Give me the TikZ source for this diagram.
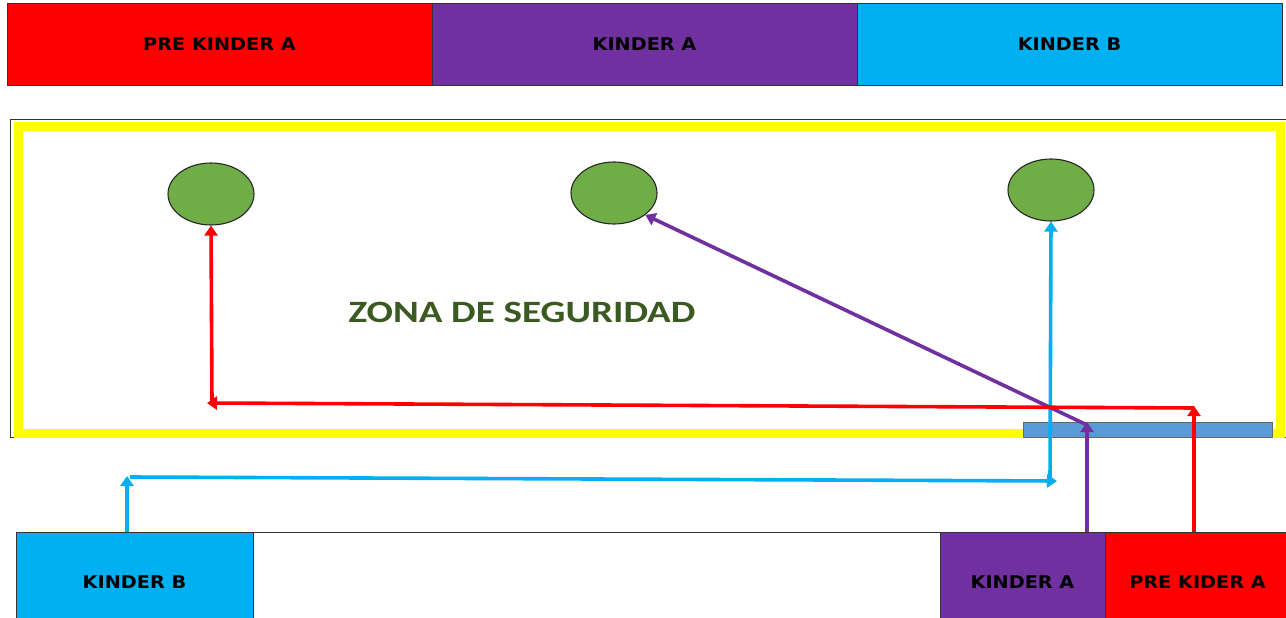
\documentclass[tikz,border=0pt]{standalone}
\usepackage{fontspec}
\setmainfont{DejaVu Sans}
\newfontfamily\zonafont{Carlito}
\usetikzlibrary{shapes.geometric,arrows.meta}
\definecolor{cred}{HTML}{FF0000}
\definecolor{cpurple}{HTML}{7030A0}
\definecolor{ccyan}{HTML}{00B0F0}
\definecolor{cyellow}{HTML}{FFFF00}
\definecolor{cgreen}{HTML}{70AD47}
\definecolor{cbar}{HTML}{5B9BD5}
\definecolor{ctext}{HTML}{3A5A22}
\newcommand{\wide}[1]{\raisebox{2pt}{\scalebox{1.1}[1]{#1}}}
\begin{document}
\begin{tikzpicture}[x=1pt,y=-1pt,
  room/.style={draw=black!80, line width=1pt, inner sep=0pt, font=\bfseries\fontsize{17.5}{20}\selectfont, text=black},
  tree/.style={ellipse, draw=black!85, line width=1.1pt, fill=cgreen, minimum width=86pt, minimum height=62pt, inner sep=0pt},
  route/.style={line width=3.6pt, -{Triangle[width=13pt,length=10pt]}},
]
\useasboundingbox (0,0) rectangle (1286,618);
\fill[white] (0,0) rectangle (1286,618);
% top rooms
\node[room, fill=cred, minimum width=425pt, minimum height=82pt] (tpa) at (219.5,45) {\wide{PRE KINDER A}};
\node[room, fill=cpurple, minimum width=425pt, minimum height=82pt] (tka) at (644.5,45) {\wide{KINDER A}};
\node[room, fill=ccyan, minimum width=425pt, minimum height=82pt] (tkb) at (1069.5,45) {\wide{KINDER B}};
% safety zone
\node[draw=black!80, line width=0.8pt, minimum width=1280pt, minimum height=318pt, inner sep=0pt] (zone) at (650,278) {};
\draw[cyellow, line width=9pt] (18,126.5) rectangle (1280,433);
\node[draw=black!60, line width=0.6pt, fill=cbar, minimum width=249pt, minimum height=15pt, inner sep=0pt] (bar) at (1147.5,429.5) {};
\node[text=ctext, font=\zonafont\bfseries\fontsize{31}{36}\selectfont, inner sep=0pt] (label) at (522,312) {\scalebox{1.26}[1]{ZONA DE SEGURIDAD}};
\node[tree] (e1) at (211,194) {};
\node[tree] (e2) at (614,193) {};
\node[tree] (e3) at (1051,190) {};
% bottom rooms
\node[room, fill=ccyan, minimum width=237pt, minimum height=102pt] (bkb) at (134.5,583) {\wide{KINDER B}};
\node[room, fill=white, minimum width=687pt, minimum height=102pt] (bmid) at (596.5,583) {};
\node[room, fill=cpurple, minimum width=165pt, minimum height=102pt] (bka) at (1022.5,583) {\wide{KINDER A}};
\node[room, fill=cred, minimum width=185pt, minimum height=102pt] (bpa) at (1197.5,583) {\wide{PRE KIDER A}};
% waypoints
\coordinate (c0) at (127,532);
\coordinate (c1) at (127,476);
\coordinate (c1b) at (130,477);
\coordinate (c2) at (1057,481);
\coordinate (c2b) at (1050,481);
\coordinate (p0) at (1087,532);
\coordinate (p1) at (1087,422);
\coordinate (p1b) at (1087,425);
\coordinate (r0) at (1194,532);
\coordinate (r1) at (1194,406);
\coordinate (r1b) at (1194,408);
\coordinate (r2) at (207,403);
\coordinate (r2b) at (212,402);
% routes
\draw[route, ccyan] (c0) -- (c1);
\draw[route, ccyan] (c1b) -- (c2);
\draw[route, ccyan] (c2b) -- (e3.south);
\draw[route, cpurple] (p0) -- (p1);
\draw[route, cpurple] (p1b) -- (e2.-35);
\draw[route, cred] (r0) -- (r1);
\draw[route, cred] (r1b) -- (r2);
\draw[route, cred] (r2b) -- (e1.south);
\end{tikzpicture}
\end{document}
